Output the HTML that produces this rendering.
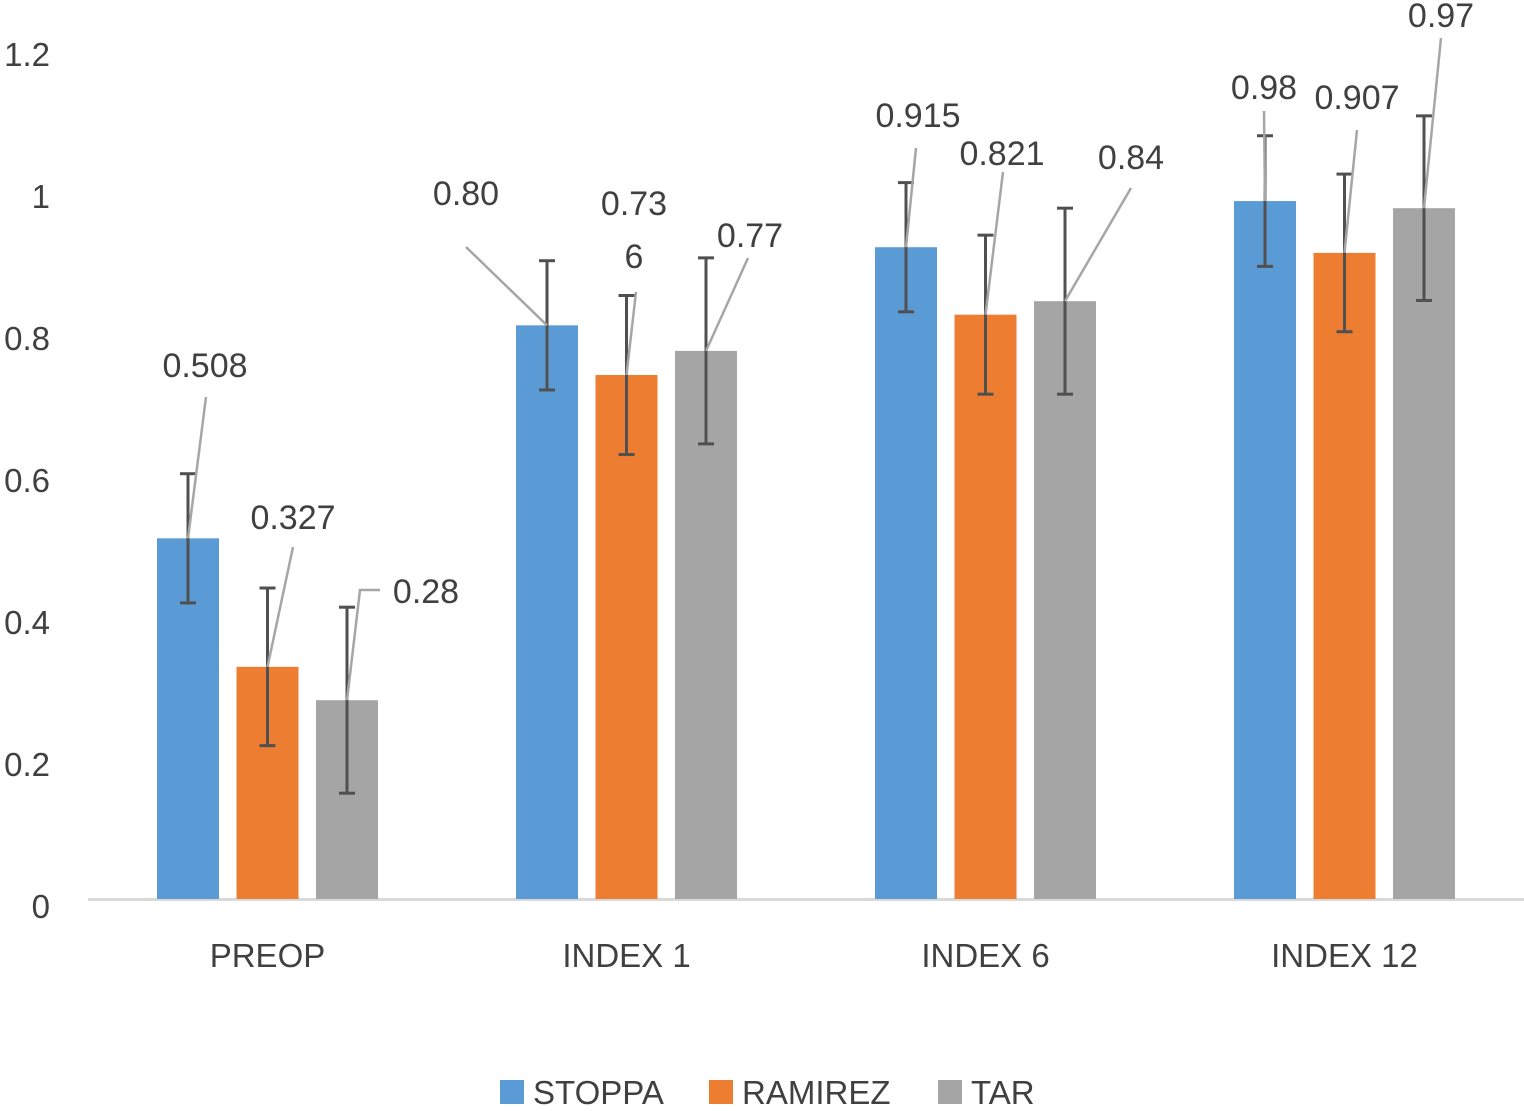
<!DOCTYPE html>
<html><head><meta charset="utf-8"><style>
body{margin:0;background:#fff}
svg text{font-family:"Liberation Sans",sans-serif;fill:#404040}
</style></head><body>
<svg id="chart" width="1524" height="1106" xmlns="http://www.w3.org/2000/svg"></svg>
<script>
const categories=["PREOP","INDEX 1","INDEX 6","INDEX 12"];
const seriesNames=["STOPPA","RAMIREZ","TAR"];
const stoppa=[0.508,0.808,0.918,0.983];
const ramirez=[0.327,0.738,0.823,0.910];
const tar=[0.280,0.772,0.842,0.973];
const stoppaErr=[0.091,0.091,0.091,0.092];
const ramirezErr=[0.111,0.112,0.112,0.111];
const tarErr=[0.131,0.131,0.131,0.130];
const yTicks=[0,0.2,0.4,0.6,0.8,1,1.2];
const yTickLabels=["0","0.2","0.4","0.6","0.8","1","1.2"];
const stoppaLabels=["0.508","0.80","0.915","0.98"];
const ramirezLabels=["0.327","0.73|6","0.821","0.907"];
const tarLabels=["0.28","0.77","0.84","0.97"];
// label annotation placement (layout, not data): [labelX,labelY,lineStartX,lineStartY]
const labelLayout=[
 [[205,365,206,397],[293,517,293,547],[426,591,380,590]],
 [[466,193,466,247],[634,203,636,292],[750,235,748,258]],
 [[918,115,916,148],[1002,153,1003,172],[1131,157,1131,188]],
 [[1264,87,1264,111],[1357,97,1357,130],[1441,15,1441,38]]
];
const colors=["#5B9BD5","#ED7D31","#A5A5A5"];
const svg=document.getElementById('chart');
const NS="http://www.w3.org/2000/svg";
const y0=899,pxPerUnit=710,plotL=88,plotR=1524;
const groupW=(plotR-plotL)/categories.length;
const yScale=v=>y0-v*pxPerUnit;
const xCenter=i=>plotL+groupW*(i+0.5);
const barW=62,barStep=79.5;
function mk(tag,attrs){const e=document.createElementNS(NS,tag);for(const k in attrs)e.setAttribute(k,attrs[k]);svg.appendChild(e);return e;}
yTicks.forEach((t,i)=>{const e=mk('text',{x:50,y:yScale(t)+19,'text-anchor':'end','font-size':33});e.textContent=yTickLabels[i];

});
const ax=mk('line',{x1:plotL,x2:plotR,y1:y0+0.5,y2:y0+0.5,stroke:'#D9D9D9','stroke-width':3});


const allVals=[stoppa,ramirez,tar],allErr=[stoppaErr,ramirezErr,tarErr],allLabels=[stoppaLabels,ramirezLabels,tarLabels];
categories.forEach((c,i)=>{
 const t=mk('text',{x:xCenter(i),y:967,'text-anchor':'middle','font-size':33});t.textContent=c;
 
 
 for(let s=0;s<3;s++){
  const v=allVals[s][i],cx=xCenter(i)+(s-1)*barStep;
  const r=mk('rect',{x:cx-barW/2,y:yScale(v),width:barW,height:y0-yScale(v),fill:colors[s]});
  
  
 }
 for(let s=0;s<3;s++){
  const v=allVals[s][i],e=allErr[s][i],cx=xCenter(i)+(s-1)*barStep;
  const g=document.createElementNS(NS,'g');svg.appendChild(g);
  
  
  const st={stroke:'#505050','stroke-width':3};
  [[cx,yScale(v+e),cx,yScale(v-e)],[cx-8,yScale(v+e),cx+8,yScale(v+e)],[cx-8,yScale(v-e),cx+8,yScale(v-e)]].forEach(p=>{
   const l=document.createElementNS(NS,'line');l.setAttribute('x1',p[0]);l.setAttribute('y1',p[1]);l.setAttribute('x2',p[2]);l.setAttribute('y2',p[3]);
   l.setAttribute('stroke',st.stroke);l.setAttribute('stroke-width',st['stroke-width']);g.appendChild(l);});
 }
 for(let s=0;s<3;s++){
  const v=allVals[s][i],cx=xCenter(i)+(s-1)*barStep,L=labelLayout[i][s];
  let pts=L[2]+','+L[3]+' '+cx+','+yScale(v);
  if(i==0&&s==2)pts=L[2]+','+L[3]+' '+(L[2]-20)+','+L[3]+' '+cx+','+yScale(v);
  const pl=mk('polyline',{points:pts,fill:'none',stroke:'#A6A6A6','stroke-width':2.5});
  
  
  const parts=allLabels[s][i].split('|');
  parts.forEach((p,k)=>{const t=mk('text',{x:L[0],y:L[1]+12+k*53,'text-anchor':'middle','font-size':34});t.textContent=p;
   
   });
 }
});
const legX=[500,709,938];
seriesNames.forEach((n,s)=>{
 const r=mk('rect',{x:legX[s],y:1080,width:24,height:24,fill:colors[s]});
 
 
 const t=mk('text',{x:legX[s]+33,y:1104,'font-size':33});t.textContent=n;
 
 
});
</script>
</body></html>
